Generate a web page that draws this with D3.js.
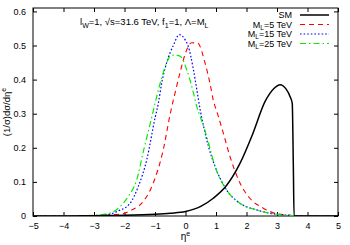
<!DOCTYPE html>
<html lang="en">
<head>
<meta charset="UTF-8">
<title>eta distribution</title>
<script src="https://d3js.org/d3.v7.min.js"></script>
<style>
    body { margin: 0; background: #fff; }
    svg { font-family: "Liberation Sans", Arial, sans-serif; }
    .tick text { font-size: 9px; fill: #000; }
</style>
</head>
<body>
<div id="chart"></div>
<script>
// values
const xTicks = [-5, -4, -3, -2, -1, 0, 1, 2, 3, 4, 5];
const yTicks = [0, 0.1, 0.2, 0.3, 0.4, 0.5, 0.6];

const smEta = [-5, -4, -3, -2, -1, -0.5, 0, 0.5, 0.91, 1.35, 1.79, 2.2, 2.61, 2.9, 3.1, 3.3, 3.43, 3.5, 3.535, 3.56, 5];
const smVal = [0, 0, 0.001, 0.002, 0.005, 0.008, 0.013, 0.028, 0.052, 0.09, 0.155, 0.24, 0.336, 0.374, 0.385, 0.372, 0.35, 0.33, 0.15, 0, 0];

const ml5Eta = [-5, -4, -3, -2.5, -2, -1.76, -1.44, -1.06, -0.73, -0.5, -0.34, -0.18, 0, 0.2, 0.4, 0.64, 0.8, 0.91, 1.05, 1.24, 1.46, 1.79, 2.11, 2.55, 2.93, 3.3, 3.7, 4, 5];
const ml5Val = [0, 0, 0.001, 0.003, 0.008, 0.018, 0.037, 0.096, 0.194, 0.3, 0.362, 0.42, 0.478, 0.508, 0.507, 0.449, 0.39, 0.34, 0.3, 0.243, 0.174, 0.096, 0.052, 0.023, 0.008, 0.003, 0.001, 0, 0];

const ml15Eta = [-5, -4, -3, -2.5, -2.2, -1.82, -1.55, -1.27, -1.0, -0.89, -0.78, -0.62, -0.4, -0.2, 0, 0.09, 0.26, 0.37, 0.48, 0.6, 0.75, 0.97, 1.35, 1.79, 2.33, 2.77, 3.2, 3.6, 4, 5];
const ml15Val = [0, 0, 0.001, 0.005, 0.015, 0.037, 0.086, 0.165, 0.287, 0.331, 0.39, 0.449, 0.5, 0.532, 0.515, 0.498, 0.429, 0.371, 0.312, 0.26, 0.205, 0.145, 0.076, 0.037, 0.018, 0.008, 0.003, 0.001, 0, 0];

const ml25Eta = [-5, -4, -3, -2.42, -2.15, -1.88, -1.6, -1.38, -1.1, -1.0, -0.78, -0.62, -0.45, -0.18, 0.04, 0.26, 0.37, 0.48, 0.69, 0.97, 1.35, 1.79, 2.33, 2.77, 3.2, 3.6, 4, 5];
const ml25Val = [0, 0, 0.002, 0.01, 0.027, 0.057, 0.106, 0.19, 0.292, 0.33, 0.405, 0.449, 0.472, 0.469, 0.429, 0.361, 0.321, 0.292, 0.235, 0.145, 0.076, 0.037, 0.018, 0.008, 0.003, 0.001, 0, 0];

const series = [
    { name: "SM", sub: null, eta: smEta, val: smVal, color: "#000000", width: 1.5, dash: null },
    { name: "M", sub: "L", rest: "=5 TeV", eta: ml5Eta, val: ml5Val, color: "#ff0000", width: 1.1, dash: "5,4" },
    { name: "M", sub: "L", rest: "=15 TeV", eta: ml15Eta, val: ml15Val, color: "#0000ff", width: 1.2, dash: "1.6,2" },
    { name: "M", sub: "L", rest: "=25 TeV", eta: ml25Eta, val: ml25Val, color: "#00ee00", width: 1.2, dash: "6,3,1.5,3" }
];

const W = 350, H = 245;
const margin = { top: 8, right: 12, bottom: 29, left: 33 };

const svg = d3.select("#chart").append("svg")
    .attr("width", W)
    .attr("height", H);

const x = d3.scaleLinear().domain([-5, 5]).range([margin.left, W - margin.right]);
const y = d3.scaleLinear().domain([0, 0.61]).range([H - margin.bottom, margin.top]);

// axes with inward ticks, mirrored
svg.append("g")
    .attr("transform", `translate(0,${H - margin.bottom})`)
    .call(d3.axisBottom(x).tickValues(xTicks).tickSize(-4).tickPadding(7).tickFormat(d3.format("d")))
    .call(g => g.select(".domain").remove());
svg.append("g")
    .attr("transform", `translate(0,${margin.top})`)
    .call(d3.axisTop(x).tickValues(xTicks).tickSize(-4).tickFormat(""))
    .call(g => g.select(".domain").remove());
svg.append("g")
    .attr("transform", `translate(${margin.left},0)`)
    .call(d3.axisLeft(y).tickValues(yTicks).tickSize(-4).tickPadding(7).tickFormat(d => d === 0 ? "0" : d3.format(".1f")(d)))
    .call(g => g.select(".domain").remove());
svg.append("g")
    .attr("transform", `translate(${W - margin.right},0)`)
    .call(d3.axisRight(y).tickValues(yTicks).tickSize(-4).tickFormat(""))
    .call(g => g.select(".domain").remove());

svg.selectAll(".tick line").attr("stroke", "#000");

svg.append("rect")
    .attr("x", margin.left).attr("y", margin.top)
    .attr("width", W - margin.left - margin.right)
    .attr("height", H - margin.top - margin.bottom)
    .attr("fill", "none").attr("stroke", "#000").attr("stroke-width", 1);

const line = d3.line()
    .x(d => x(d[0]))
    .y(d => y(d[1]))
    .curve(d3.curveMonotoneX);

svg.append("defs").append("clipPath").attr("id", "clip")
    .append("rect")
    .attr("x", margin.left).attr("y", margin.top)
    .attr("width", W - margin.left - margin.right)
    .attr("height", H - margin.top - margin.bottom);

// SM drawn last so it sits on top
[series[1], series[2], series[3], series[0]].forEach(s => {
    svg.append("path")
        .datum(s.eta.map((e, i) => [e, s.val[i]]))
        .attr("clip-path", "url(#clip)")
        .attr("d", line)
        .attr("fill", "none")
        .attr("stroke", s.color)
        .attr("stroke-width", s.width)
        .attr("stroke-dasharray", s.dash);
});

// legend
const legendY = [15, 24.5, 34, 43.5];
series.forEach((s, i) => {
    const t = svg.append("text")
        .attr("x", 292).attr("y", legendY[i] + 3)
        .attr("text-anchor", "end")
        .attr("font-size", 9);
    t.append("tspan").text(s.name);
    if (s.sub) {
        t.append("tspan").attr("font-size", 6.5).attr("dy", 2).text(s.sub);
        t.append("tspan").attr("dy", -2).text(s.rest);
    }
    svg.append("line")
        .attr("x1", 300).attr("x2", 329)
        .attr("y1", legendY[i]).attr("y2", legendY[i])
        .attr("stroke", s.color)
        .attr("stroke-width", s.width)
        .attr("stroke-dasharray", s.dash);
});

// annotation
const ann = svg.append("text").attr("x", 80).attr("y", 25).attr("font-size", 9.5);
ann.append("tspan").text("l");
ann.append("tspan").attr("font-size", 7).attr("dy", 2.5).text("W");
ann.append("tspan").attr("dy", -2.5).text("=1, \u221As=31.6 TeV, f");
ann.append("tspan").attr("font-size", 7).attr("dy", 2.5).text("1");
ann.append("tspan").attr("dy", -2.5).text("=1, \u039B=M");
ann.append("tspan").attr("font-size", 7).attr("dy", 2.5).text("L");

// axis labels
const xl = svg.append("text").attr("x", x(0)).attr("y", 240).attr("text-anchor", "middle").attr("font-size", 10);
xl.append("tspan").text("\u03B7");
xl.append("tspan").attr("font-size", 7).attr("dy", -4).text("e");

const yl = svg.append("text")
    .attr("transform", `translate(10,${(margin.top + H - margin.bottom) / 2}) rotate(-90)`)
    .attr("text-anchor", "middle")
    .attr("font-size", 9.5);
yl.append("tspan").text("(1/\u03C3)d\u03C3/d\u03B7");
yl.append("tspan").attr("font-size", 7).attr("dy", -4).text("e");
</script>
</body>
</html>
